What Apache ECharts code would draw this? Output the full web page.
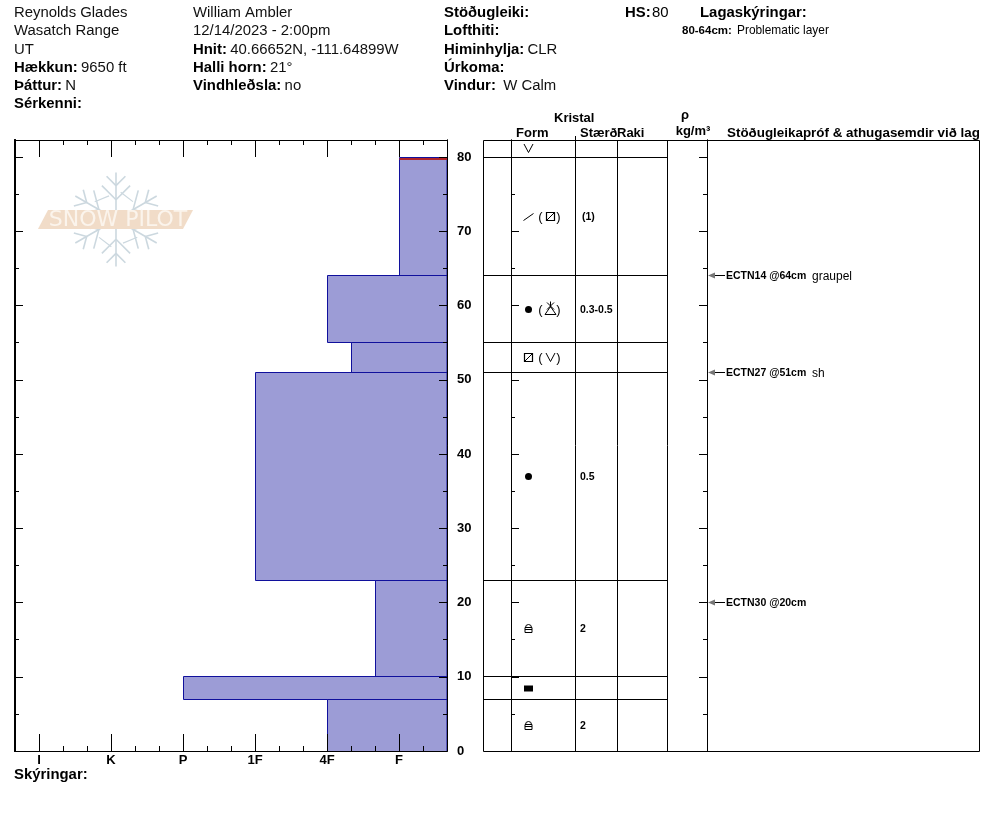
<!DOCTYPE html>
<html>
<head>
<meta charset="utf-8">
<title>Snow profile</title>
<style>
  html, body { margin: 0; padding: 0; background: #fff; }
  #chart { width: 994px; height: 840px; }
</style>
<script src="https://cdn.jsdelivr.net/npm/echarts@6/dist/echarts.min.js"></script>
</head>
<body>
<div id="chart"></div>
<script>
// header text: [bold label, plain value]
const headerLeft = [['', 'Reynolds Glades'], ['', 'Wasatch Range'], ['', 'UT'], ['Hækkun:', '9650 ft'], ['Þáttur:', 'N'], ['Sérkenni:', '']];
const headerMiddle = [['', 'William Ambler'], ['', '12/14/2023 - 2:00pm'], ['Hnit:', '40.66652N, -111.64899W'], ['Halli horn:', '21°'], ['Vindhleðsla:', 'no']];
const headerRight = [['Stöðugleiki:', ''], ['Lofthiti:', ''], ['Himinhylja:', 'CLR'], ['Úrkoma:', ''], ['Vindur:', ' W Calm']];

// hardness scale is in thirds of a step, 0 is the left edge of the plot
const hardnessLabels = ['I', 'K', 'P', '1F', '4F', 'F'];
const hardnessMajor = [1, 4, 7, 10, 13, 16];
const hardnessMinor = [2, 3, 5, 6, 8, 9, 11, 12, 14, 15, 17];
const depthLabels = [0, 10, 20, 30, 40, 50, 60, 70, 80];
const depthLong = [10, 20, 30, 40, 50, 60, 70, 80];
const depthShort = [5, 15, 25, 35, 45, 55, 65, 75];

// layers, top to bottom
const layerTops = [80, 64, 55, 51, 23, 10, 7];
const layerBottoms = [64, 55, 51, 23, 10, 7, 0];
const layerHardness = [16, 13, 14, 10, 15, 7, 13];
const problemDepths = [79.7];

// crystal rows, the first one is the surface row above 80
const grainDepths = [81.15, 72, 59.5, 53, 37, 16.5, 8.5, 3.5];
const grainPrimary = ['hoar', 'slash', 'round', 'facet', 'round', 'melt', 'ice', 'melt'];
const grainSecondary = ['', 'facet', 'graupel', 'hoar', '', '', '', ''];
const grainSizes = ['', '(1)', '0.3-0.5', '', '0.5', '2', '', '2'];

// stability tests
const testDepths = [64, 51, 20];
const testLabels = ['ECTN14 @64cm', 'ECTN27 @51cm', 'ECTN30 @20cm'];
const testComments = ['graupel', 'sh', ''];

const FONT = '"Liberation Sans", Arial, sans-serif';
const DEPTH_MAX = 82.29;
const HARD_MAX = 18;
const BAR_FILL = '#9c9cd6';
const BAR_LINE = '#10109c';
const columnEdges = [511, 575, 617, 667, 707];

const crisp = (v) => Math.floor(v) + 0.5;

function lineEl(x1, y1, x2, y2, color, width) {
  return {
    type: 'line',
    shape: { x1, y1, x2, y2 },
    style: { stroke: color || '#000', lineWidth: width || 1, fill: null }
  };
}

function renderBars(params, api) {
  const tl = api.coord([api.value(2), api.value(0)]);
  const br = api.coord([HARD_MAX, api.value(1)]);
  const x = crisp(tl[0]);
  const y = crisp(tl[1]);
  return {
    type: 'rect',
    shape: { x, y, width: br[0] - x, height: crisp(br[1]) - y },
    style: { fill: BAR_FILL, stroke: BAR_LINE, lineWidth: 1 }
  };
}

function renderProblem(params, api) {
  // red marker across the layer top it belongs to
  const depth = api.value(0);
  const layer = layerTops.findIndex((t) => Math.abs(t - depth) < 1);
  const a = api.coord([layerHardness[layer], depth]);
  const b = api.coord([HARD_MAX, depth]);
  return lineEl(a[0] + 0.5, Math.round(a[1]), b[0], Math.round(a[1]), '#b02428', 2);
}

function renderTable(params, api) {
  const top = api.coord([483, DEPTH_MAX]);
  const bottom = api.coord([979, 0]);
  const children = [{
    type: 'rect',
    shape: { x: top[0] + 0.5, y: top[1] + 0.5, width: bottom[0] - top[0], height: bottom[1] - top[1] },
    style: { fill: null, stroke: '#000', lineWidth: 1 }
  }];
  columnEdges.forEach((x) => {
    children.push(lineEl(x + 0.5, top[1], x + 0.5, bottom[1], '#000', 1));
  });
  layerTops.forEach((d) => {
    const p = api.coord([667, d]);
    children.push(lineEl(top[0], crisp(p[1]), p[0], crisp(p[1]), '#000', 1));
  });
  children.push(lineEl(575.5, top[1] - 4, 575.5, top[1], '#000', 1));
  return { type: 'group', children };
}

function glyph(name, cx, cy) {
  const x = Math.round(cx) + 0.5;
  const y = Math.round(cy) + 0.5;
  const stroke = { stroke: '#000', lineWidth: 1, fill: null };
  if (name === 'hoar') {
    return [{ type: 'polyline', shape: { points: [[x - 4.5, y - 4.5], [x, y + 4], [x + 4.5, y - 4.5]] }, style: stroke }];
  }
  if (name === 'slash') {
    return [lineEl(x - 5, y + 4, x + 5, y - 3)];
  }
  if (name === 'round') {
    return [{ type: 'circle', shape: { cx: x, cy: y, r: 3.5 }, style: { fill: '#000' } }];
  }
  if (name === 'facet') {
    return [
      { type: 'rect', shape: { x: x - 4, y: y - 4, width: 8, height: 8 }, style: Object.assign({}, stroke, { lineWidth: 1.2 }) },
      lineEl(x - 4, y + 4, x + 4, y - 4)
    ];
  }
  if (name === 'graupel') {
    return [
      { type: 'polygon', shape: { points: [[x, y - 3], [x + 5.5, y + 5], [x - 5.5, y + 5]] }, style: stroke },
      lineEl(x - 3.5, y - 7, x + 3.5, y),
      lineEl(x + 3.5, y - 7, x - 3.5, y),
      lineEl(x, y - 8, x, y - 2)
    ];
  }
  if (name === 'melt') {
    return [
      { type: 'rect', shape: { x: x - 3.5, y: y - 1, width: 7, height: 5 }, style: stroke },
      { type: 'arc', shape: { cx: x, cy: y - 1, r: 3, startAngle: Math.PI, endAngle: Math.PI * 2 }, style: stroke },
      lineEl(x - 3.5, y + 1, x + 3.5, y + 1)
    ];
  }
  if (name === 'ice') {
    return [{ type: 'rect', shape: { x: x - 4.5, y: y - 3, width: 9, height: 6 }, style: { fill: '#000' } }];
  }
  return [];
}

function renderGrains(params, api) {
  const i = api.value(0);
  const y = api.coord([528, grainDepths[i]])[1];
  let children = glyph(grainPrimary[i], 527.5, y);
  if (grainSecondary[i]) {
    children = children.concat(glyph(grainSecondary[i], 549.5, y));
    ['(', ')'].forEach((t, k) => {
      children.push({
        type: 'text',
        style: { text: t, x: k ? 558.5 : 540.5, y: y + 1, font: '13px ' + FONT, fill: '#000', align: 'center', verticalAlign: 'middle' }
      });
    });
  }
  if (grainSizes[i]) {
    children.push({
      type: 'text',
      style: {
        text: grainSizes[i],
        x: grainSizes[i][0] === '(' ? 582 : 580,
        y: y + 1,
        font: 'bold 10.5px ' + FONT,
        fill: '#000',
        verticalAlign: 'middle'
      }
    });
  }
  return { type: 'group', children };
}

function renderTests(params, api) {
  const i = api.value(0);
  const y = crisp(api.coord([707, testDepths[i]])[1]);
  const children = [
    lineEl(714, y, 725, y, '#000', 1),
    { type: 'polygon', shape: { points: [[708, y], [715, y - 3], [715, y + 3]] }, style: { fill: '#777' } },
    { type: 'text', style: { text: testLabels[i], x: 726, y: y + 1, font: 'bold 10.5px ' + FONT, fill: '#000', verticalAlign: 'middle' } }
  ];
  if (testComments[i]) {
    children.push({ type: 'text', style: { text: testComments[i], x: 812, y: y + 1, font: '12px ' + FONT, fill: '#000', verticalAlign: 'middle' } });
  }
  return { type: 'group', children };
}

function depthAxis(gridIndex, position, values, length, withLabels, lineWidth) {
  return {
    type: 'value',
    gridIndex,
    position,
    min: 0,
    max: DEPTH_MAX,
    z: 10,
    axisLine: { show: true, onZero: false, lineStyle: { color: '#000', width: lineWidth || 1 } },
    splitLine: { show: false },
    axisTick: { show: !!length, inside: true, length, customValues: values, lineStyle: { color: '#000', width: 1 } },
    axisLabel: withLabels
      ? { show: true, customValues: depthLabels, margin: 10, padding: [4, 0, 0, 0], color: '#000', fontFamily: FONT, fontWeight: 'bold', fontSize: 13 }
      : { show: false }
  };
}

function hardnessAxis(position, values, length, withLabels) {
  return {
    type: 'value',
    gridIndex: 0,
    position,
    min: 0,
    max: HARD_MAX,
    z: 10,
    axisLine: { show: true, onZero: false, lineStyle: { color: '#000', width: 1 } },
    splitLine: { show: false },
    axisTick: { show: true, inside: true, length, customValues: values, lineStyle: { color: '#000', width: 1 } },
    axisLabel: withLabels
      ? {
          show: true,
          customValues: hardnessMajor,
          margin: 3,
          color: '#000',
          fontFamily: FONT,
          fontWeight: 'bold',
          fontSize: 13,
          formatter: (v) => hardnessLabels[hardnessMajor.indexOf(v)]
        }
      : { show: false }
  };
}

function hiddenAxis(gridIndex, min, max) {
  return { type: 'value', gridIndex, min, max, show: false };
}

function headerTexts(rows, x) {
  return rows.map((row, i) => ({
    type: 'text',
    x,
    y: 13 + i * 18.2,
    style: {
      text: (row[0] ? '{b|' + row[0] + '}' + (row[1] ? ' ' : '') : '') + (row[1] ? '{n|' + row[1] + '}' : ''),
      rich: {
        b: { font: 'bold 14.9px ' + FONT, fill: '#000' },
        n: { font: '14.9px ' + FONT, fill: '#111' }
      },
      verticalAlign: 'middle'
    }
  }));
}

function plainText(text, x, y, font, align) {
  return { type: 'text', x, y, style: { text, font: font + ' ' + FONT, fill: '#000', verticalAlign: 'middle', align: align || 'left' } };
}

function snowflake(cx, cy, radius) {
  const color = '#ccd8df';
  const arm = [
    lineEl(0, -radius, 0, -radius * 0.2, color, 1.6),
    lineEl(0, -radius * 0.72, -radius * 0.2, -radius * 0.92, color, 1.6),
    lineEl(0, -radius * 0.72, radius * 0.2, -radius * 0.92, color, 1.6),
    lineEl(0, -radius * 0.42, -radius * 0.3, -radius * 0.72, color, 1.6),
    lineEl(0, -radius * 0.42, radius * 0.3, -radius * 0.72, color, 1.6),
    lineEl(radius * 0.1, -radius * 0.58, radius * 0.36, -radius * 0.38, color, 1.2)
  ];
  const arms = [0, 1, 2, 3, 4, 5].map((k) => ({
    type: 'group',
    x: cx,
    y: cy,
    rotation: (k * Math.PI) / 3,
    children: arm.map((c) => Object.assign({}, c))
  }));
  return arms;
}

const watermark = snowflake(116, 219.5, 47).concat([
  {
    type: 'polygon',
    shape: { points: [[48, 210], [193, 210], [183, 229], [38, 229]] },
    style: { fill: '#f1dcc8' }
  },
  {
    type: 'text',
    x: 118,
    y: 220,
    style: {
      text: 'SNOW PILOT',
      font: '22px "DejaVu Sans", sans-serif',
      fill: '#fbf4ec',
      align: 'center',
      verticalAlign: 'middle'
    }
  }
]);

const chart = echarts.init(document.getElementById('chart'), null, { renderer: 'canvas' });

chart.setOption({
  animation: false,
  backgroundColor: '#fff',
  grid: [
    { left: 15, top: 140, width: 432, height: 611 },
    { left: 483, top: 140, width: 496, height: 611 },
    { left: 511, top: 140, width: 196, height: 611 }
  ],
  xAxis: [
    hardnessAxis('bottom', hardnessMajor, 17, true),
    hardnessAxis('bottom', hardnessMinor, 5, false),
    hardnessAxis('top', hardnessMajor, 17, false),
    hardnessAxis('top', hardnessMinor, 5, false),
    hiddenAxis(1, 483, 979),
    hiddenAxis(2, 0, 1)
  ],
  yAxis: [
    depthAxis(0, 'right', depthLong, 8, true),
    depthAxis(0, 'right', depthShort, 4, false),
    depthAxis(0, 'left', depthLong, 8, false, 2),
    depthAxis(0, 'left', depthShort, 4, false, 2),
    hiddenAxis(1, 0, DEPTH_MAX),
    depthAxis(2, 'left', depthLong, 8, false),
    depthAxis(2, 'left', depthShort, 4, false),
    depthAxis(2, 'right', depthLong, 8, false),
    depthAxis(2, 'right', depthShort, 4, false)
  ],
  series: [
    {
      type: 'custom',
      xAxisIndex: 0,
      yAxisIndex: 0,
      z: 2,
      silent: true,
      renderItem: renderBars,
      data: layerTops.map((t, i) => [t, layerBottoms[i], layerHardness[i]])
    },
    {
      type: 'custom',
      xAxisIndex: 0,
      yAxisIndex: 0,
      z: 3,
      silent: true,
      renderItem: renderProblem,
      data: problemDepths.map((d) => [d])
    },
    {
      type: 'custom',
      xAxisIndex: 4,
      yAxisIndex: 4,
      z: 2,
      silent: true,
      clip: false,
      renderItem: renderTable,
      data: [[0]]
    },
    {
      type: 'custom',
      xAxisIndex: 4,
      yAxisIndex: 4,
      z: 3,
      silent: true,
      renderItem: renderGrains,
      data: grainDepths.map((d, i) => [i])
    },
    {
      type: 'custom',
      xAxisIndex: 4,
      yAxisIndex: 4,
      z: 3,
      silent: true,
      renderItem: renderTests,
      data: testDepths.map((d, i) => [i])
    }
  ],
  graphic: { elements: watermark.concat(
    headerTexts(headerLeft, 14),
    headerTexts(headerMiddle, 193),
    headerTexts(headerRight, 444),
    [
      plainText('HS:', 625, 13, 'bold 14.9px'),
      plainText('80', 652, 13, '14.9px'),
      plainText('Lagaskýringar:', 700, 13, 'bold 14.9px'),
      plainText('80-64cm:', 682, 31, 'bold 11.5px'),
      plainText('Problematic layer', 737, 31, '11.9px'),
      plainText('Kristal', 554, 118, 'bold 13px'),
      plainText('Form', 516, 133, 'bold 13px'),
      plainText('Stærð', 580, 133, 'bold 13px'),
      plainText('Raki', 617, 133, 'bold 13px'),
      plainText('ρ', 685, 115, 'bold 13px', 'center'),
      plainText('kg/m³', 693, 131, 'bold 13px', 'center'),
      plainText('Stöðugleikapróf & athugasemdir við lag', 727, 133, 'bold 13.4px'),
      plainText('Skýringar:', 14, 775, 'bold 14.9px')
    ]
  ) }
});
</script>
</body>
</html>
